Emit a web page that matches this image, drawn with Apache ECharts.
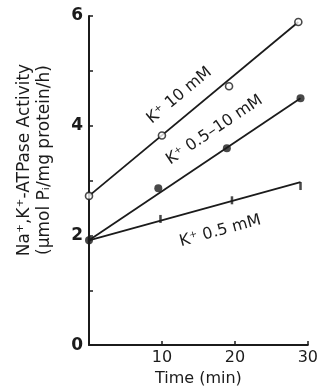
<!DOCTYPE html>
<html><head><meta charset="utf-8">
<script src="https://cdn.jsdelivr.net/npm/echarts@6/dist/echarts.min.js"></script>
<style>html,body{margin:0;padding:0;background:#fff}#c{width:321px;height:392px}</style>
</head><body><div id="c"></div>
<script>
// ---- data ----
const xTickValues = [0, 10, 20, 30];
const yTickValues = [0, 2, 4, 6];
const seriesNames = ['K⁺ 10 mM', 'K⁺ 0.5–10 mM', 'K⁺ 0.5 mM'];
const k10Points   = [[0, 2.72], [10, 3.82], [19.2, 4.72], [28.7, 5.89]];
const k0510Points = [[0, 1.91], [9.5, 2.86], [18.9, 3.59], [29, 4.5]];
const k05Points   = [[0, 1.91], [9.8, 2.3], [19.6, 2.64], [29, 2.9]];
const k10Fit   = [[0, 2.72], [28.7, 5.89]];
const k0510Fit = [[0, 1.91], [29, 4.5]];
const k05Fit   = [[0, 1.91], [29, 2.97]];

const ink = '#1b1b1b';
const font = 'DejaVu Sans';
const chart = echarts.init(document.getElementById('c'));

function fitLine(d){
  return {type:'line', data:d, symbol:'none', lineStyle:{color:ink, width:1.8}, z:2, animation:false};
}
function pts(d, sym, size, fill, bw){
  return {type:'scatter', data:d, symbol:sym, symbolSize:size,
    itemStyle:{color:fill, borderColor:ink, borderWidth:bw}, z:3, animation:false};
}
chart.setOption({
  animation:false,
  grid:{left:89, right:9, top:16, bottom:43},
  xAxis:{type:'value', min:0, max:30, interval:10,
    axisLine:{lineStyle:{color:ink, width:2}},
    axisTick:{inside:true, length:4, lineStyle:{color:ink, width:1.5}},
    splitLine:{show:false},
    axisLabel:{color:ink, fontFamily:font, fontSize:16, margin:5,
      formatter:v => xTickValues.includes(v) && v !== 0 ? String(v) : ''},
    name:'Time (min)', nameLocation:'middle', nameGap:24,
    nameTextStyle:{color:ink, fontFamily:font, fontSize:16}},
  yAxis:{type:'value', min:0, max:6, interval:2,
    axisLine:{lineStyle:{color:ink, width:2}},
    axisTick:{inside:true, length:4, lineStyle:{color:ink, width:1.5}},
    minorTick:{show:true, splitNumber:2, length:4, lineStyle:{color:ink, width:1.5}},
    splitLine:{show:false},
    axisLabel:{color:ink, fontFamily:font, fontSize:17, fontWeight:'bold', margin:6,
      formatter:v => yTickValues.includes(v) ? String(v) : ''}},
  series:[
    fitLine(k10Fit), fitLine(k0510Fit), fitLine(k05Fit),
    pts(k10Points, 'circle', 7, '#fff', 1.6),
    pts(k0510Points, 'circle', 8, ink, 0),
    pts(k05Points, 'rect', [2.5, 8], ink, 0)
  ]
});

// labels placed along the fitted lines
function lineLabel(text, fit, anchor){
  const p0 = chart.convertToPixel({gridIndex:0}, fit[0]);
  const p1 = chart.convertToPixel({gridIndex:0}, fit[1]);
  const ang = Math.atan2(p0[1]-p1[1], p1[0]-p0[0]);
  const pa = chart.convertToPixel({gridIndex:0}, anchor);
  return {type:'text', x:pa[0], y:pa[1], rotation:ang,
    style:{text:text, fill:ink, font:'16px "DejaVu Sans"', align:'center', verticalAlign:'middle'}};
}
chart.setOption({graphic:[
  lineLabel(seriesNames[0], k10Fit, [12.4, 4.55]),
  lineLabel(seriesNames[1], k0510Fit, [17.2, 3.92]),
  lineLabel(seriesNames[2], k05Fit, [18.0, 2.08]),
  {type:'text', x:35, y:160, rotation:Math.PI/2,
   style:{text:'Na⁺,K⁺-ATPase Activity\n(μmol Pᵢ/mg protein/h)', fill:ink,
     font:'17px "DejaVu Sans"', align:'center', verticalAlign:'middle', lineHeight:20}}
]});
</script></body></html>
